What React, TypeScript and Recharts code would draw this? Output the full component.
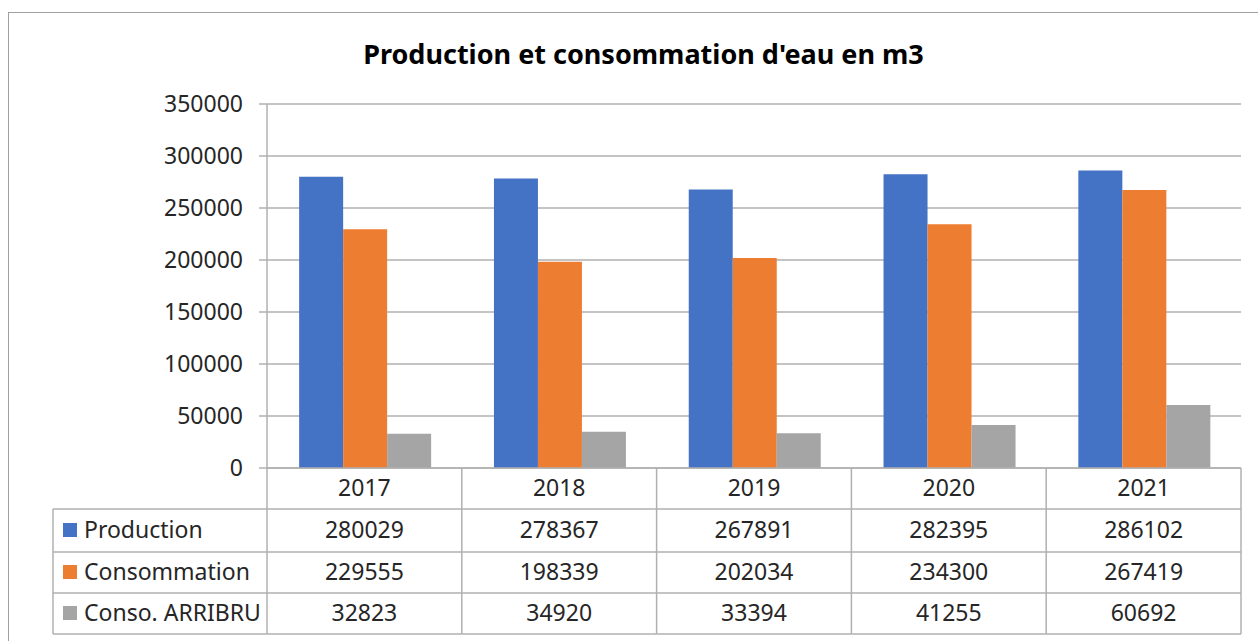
import { BarChart, Bar, XAxis, YAxis, CartesianGrid } from 'recharts'

const years = ['2017', '2018', '2019', '2020', '2021']
const production = [280029, 278367, 267891, 282395, 286102]
const consommation = [229555, 198339, 202034, 234300, 267419]
const consoArribru = [32823, 34920, 33394, 41255, 60692]
const yTicks = [0, 50000, 100000, 150000, 200000, 250000, 300000, 350000]

const series = [
  { key: 'production', name: 'Production', color: '#4472C4', values: production },
  { key: 'consommation', name: 'Consommation', color: '#ED7D31', values: consommation },
  { key: 'arribru', name: 'Conso. ARRIBRU', color: '#A5A5A5', values: consoArribru },
]

const data = years.map((year, i) => ({
  year,
  production: production[i],
  consommation: consommation[i],
  arribru: consoArribru[i],
}))

const W = 1249
const H = 628
const PLOT_LEFT = 258
const PLOT_RIGHT = 1232
const PLOT_TOP = 91
const PLOT_BOTTOM = 455
const BAND = (PLOT_RIGHT - PLOT_LEFT) / years.length
const TABLE_LEFT = 44
const ROWS = [455, 496, 539, 580, 621]
const LINE = '#b0b0b0'
const FONT = '"Noto Sans", sans-serif'
const TEXT = '#262626'

function TableTick(props: any) {
  const { x, payload } = props
  const i = payload.index
  const left = x - BAND / 2
  const right = x + BAND / 2
  const mid = (a: number, b: number) => (a + b) / 2 - 1.5
  return (
    <g>
      <text x={x} y={mid(ROWS[0], ROWS[1])} textAnchor="middle" dominantBaseline="central"
        fontFamily={FONT} fontSize={23} fill={TEXT}>{payload.value}</text>
      {series.map((s, r) => (
        <text key={s.key} x={x} y={mid(ROWS[r + 1], ROWS[r + 2])} textAnchor="middle"
          dominantBaseline="central" fontFamily={FONT} fontSize={23} fill={TEXT}>
          {s.values[i]}
        </text>
      ))}
      <line x1={right} y1={ROWS[0]} x2={right} y2={ROWS[4]} stroke={LINE} strokeWidth={1.5} />
      {ROWS.slice(1).map((ry) => (
        <line key={ry} x1={left} y1={ry} x2={right} y2={ry} stroke={LINE} strokeWidth={1.5} />
      ))}
      {i === 0 && (
        <g>
          <line x1={left} y1={ROWS[0]} x2={left} y2={ROWS[4]} stroke={LINE} strokeWidth={1.5} />
          <line x1={TABLE_LEFT} y1={ROWS[1]} x2={TABLE_LEFT} y2={ROWS[4]} stroke={LINE} strokeWidth={1.5} />
          {ROWS.slice(1).map((ry) => (
            <line key={ry} x1={TABLE_LEFT} y1={ry} x2={left} y2={ry} stroke={LINE} strokeWidth={1.5} />
          ))}
          {series.map((s, r) => {
            const cy = mid(ROWS[r + 1], ROWS[r + 2])
            return (
              <g key={s.key}>
                <rect x={TABLE_LEFT + 10} y={cy - 6} width={14} height={14} fill={s.color} />
                <text x={TABLE_LEFT + 31} y={cy} dominantBaseline="central"
                  fontFamily={FONT} fontSize={23} fill={TEXT}>{s.name}</text>
              </g>
            )
          })}
        </g>
      )}
    </g>
  )
}

export default function App() {
  return (
    <div style={{ position: 'absolute', left: 8, top: 12, width: 1250, height: 629,
      borderTop: '1.5px solid #a0a0a0', borderLeft: '1.5px solid #a0a0a0', background: '#fff' }}>
      <div style={{ position: 'absolute', left: 10, width: W, top: 27, textAlign: 'center',
        fontFamily: FONT, fontWeight: 700, fontSize: 27, lineHeight: 1, color: '#000' }}>
        Production et consommation d'eau en m3
      </div>
      <BarChart width={W} height={H} data={data} barCategoryGap="16.5%" barGap={0}
        margin={{ top: PLOT_TOP, right: W - PLOT_RIGHT, left: 0, bottom: 0 }}>
        <CartesianGrid vertical={false} stroke={LINE} strokeWidth={1.5} />
        <XAxis dataKey="year" height={H - PLOT_BOTTOM} axisLine={{ stroke: LINE, strokeWidth: 1.5 }}
          tickLine={false} interval={0} tick={<TableTick />} />
        <YAxis width={PLOT_LEFT} domain={[0, 350000]} ticks={yTicks} interval={0}
          axisLine={{ stroke: LINE, strokeWidth: 1.5 }} tickLine={{ stroke: LINE, strokeWidth: 1.5 }}
          tickSize={8} tickMargin={16}
          tick={{ fontFamily: FONT, fontSize: 23, fill: TEXT }} />
        {series.map((s) => (
          <Bar key={s.key} dataKey={s.key} name={s.name} fill={s.color} isAnimationActive={false} />
        ))}
      </BarChart>
    </div>
  )
}
